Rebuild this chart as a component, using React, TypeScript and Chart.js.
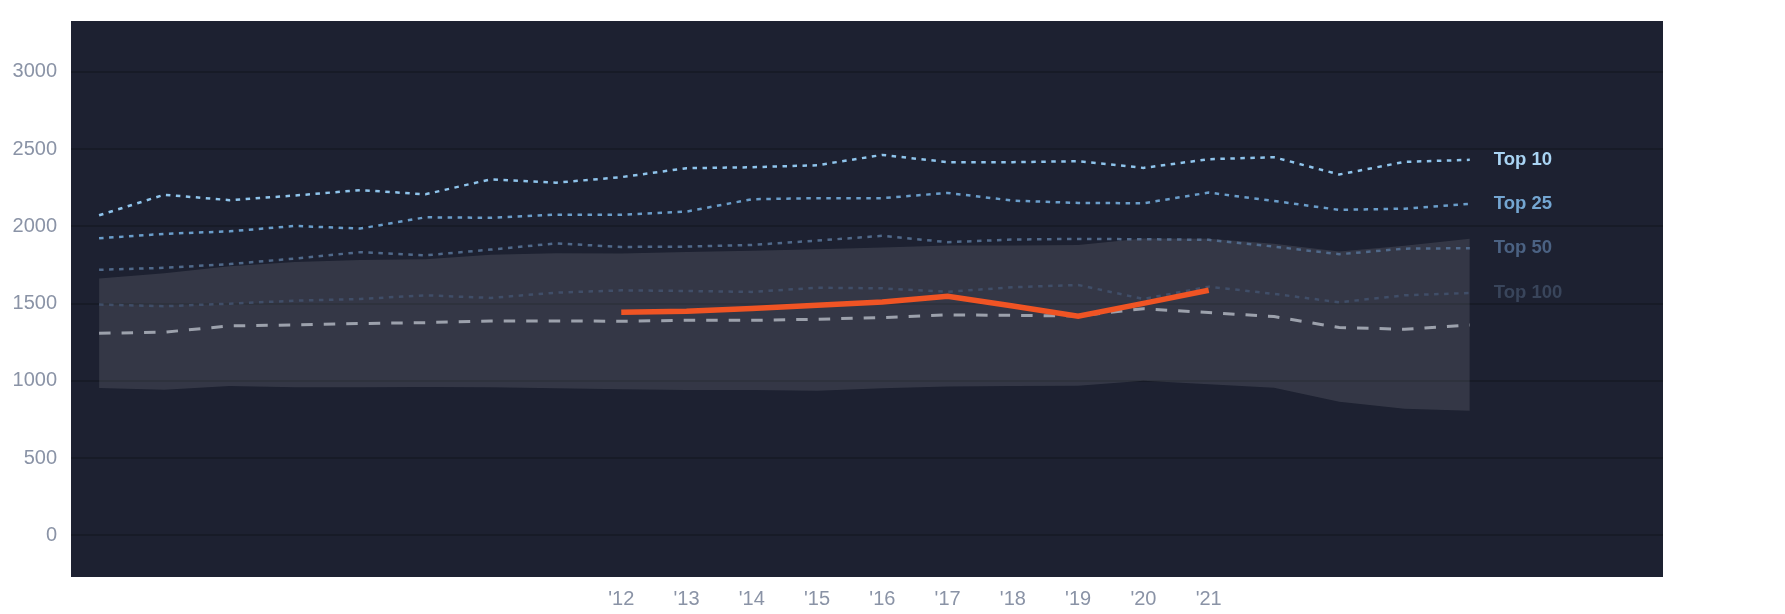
import { useEffect, useRef } from 'react'
import { Chart, registerables } from 'chart.js'

Chart.register(...registerables)

// x positions are season indexes 0..21, only '12–'21 get a label
const xTickIdx = [8, 9, 10, 11, 12, 13, 14, 15, 16, 17]
const xTickLabels = ["'12", "'13", "'14", "'15", "'16", "'17", "'18", "'19", "'20", "'21"]
const yTicks = [0, 500, 1000, 1500, 2000, 2500, 3000]

const top10 = [2072, 2205, 2170, 2200, 2235, 2208, 2305, 2283, 2319, 2377, 2383, 2396, 2463, 2416, 2416, 2422, 2379, 2435, 2448, 2336, 2418, 2431]
const top25 = [1923, 1952, 1968, 2003, 1986, 2059, 2056, 2076, 2075, 2096, 2176, 2183, 2183, 2217, 2167, 2152, 2150, 2219, 2165, 2107, 2115, 2146]
const top50 = [1719, 1732, 1756, 1792, 1833, 1813, 1850, 1890, 1867, 1869, 1880, 1908, 1939, 1898, 1915, 1919, 1917, 1913, 1869, 1820, 1856, 1859]
const top100 = [1494, 1483, 1500, 1519, 1530, 1554, 1537, 1571, 1586, 1582, 1576, 1603, 1599, 1577, 1606, 1621, 1530, 1610, 1563, 1509, 1554, 1569]
const median = [1308, 1315, 1356, 1362, 1371, 1377, 1388, 1388, 1386, 1392, 1392, 1399, 1410, 1427, 1424, 1420, 1467, 1442, 1416, 1345, 1334, 1362]
const bandHigh = [1663, 1697, 1742, 1770, 1782, 1788, 1816, 1827, 1824, 1834, 1843, 1852, 1863, 1876, 1877, 1880, 1922, 1920, 1887, 1837, 1874, 1920]
const bandLow = [954, 943, 966, 958, 958, 960, 958, 952, 945, 940, 940, 936, 952, 964, 966, 968, 1001, 978, 956, 865, 820, 806]
const team = [null, null, null, null, null, null, null, null, 1444, 1450, 1469, 1489, 1510, 1547, 1485, 1419, 1502, 1587, null, null, null, null]

const BG = '#1d2131'
const GRID = '#171b27'
const TICK = '#8a93a6'
const FONT = "'Liberation Sans', Arial, sans-serif"

const pts = (arr: (number | null)[]) =>
  arr.map((y, i) => ({ x: i, y })).filter(p => p.y !== null)

const tiers = [
  { label: 'Top 10', data: top10, color: '#8fc4ec', text: '#a9d4f4' },
  { label: 'Top 25', data: top25, color: '#6a9dca', text: '#74a6d2' },
  { label: 'Top 50', data: top50, color: '#50698a', text: '#4b6283' },
  { label: 'Top 100', data: top100, color: '#404e68', text: '#39455b' },
]

const plotBg = {
  id: 'plotBg',
  beforeDraw(chart: Chart) {
    const { ctx, chartArea: a } = chart
    ctx.save()
    ctx.fillStyle = BG
    ctx.fillRect(a.left, a.top, a.right - a.left, a.bottom - a.top)
    ctx.restore()
  },
}

const endLabels = {
  id: 'endLabels',
  afterDatasetsDraw(chart: Chart) {
    const { ctx } = chart
    ctx.save()
    ctx.font = `bold 18.5px ${FONT}`
    ctx.textAlign = 'left'
    ctx.textBaseline = 'middle'
    chart.data.datasets.forEach((ds: any, i) => {
      if (!ds.endLabel) return
      const meta = chart.getDatasetMeta(i)
      const last = meta.data[meta.data.length - 1]
      if (!last) return
      ctx.fillStyle = ds.endLabelColor
      ctx.fillText(ds.endLabel, last.x + 24, last.y)
    })
    ctx.restore()
  },
}

function RankChart() {
  const canvasRef = useRef<HTMLCanvasElement>(null)

  useEffect(() => {
    const canvas = canvasRef.current
    if (!canvas) return

    const chart = new Chart(canvas, {
      type: 'line',
      data: {
        datasets: [
          {
            label: 'band low',
            data: pts(bandLow),
            borderWidth: 0,
            pointRadius: 0,
            fill: false,
            order: 20,
          },
          {
            label: 'band high',
            data: pts(bandHigh),
            borderWidth: 0,
            pointRadius: 0,
            fill: 0,
            backgroundColor: 'rgba(255,255,255,0.1)',
            order: 19,
          },
          ...tiers.map((t, i) => ({
            label: t.label,
            data: pts(t.data),
            borderColor: t.color,
            borderWidth: 2.5,
            borderDash: [4.5, 5.5],
            pointRadius: 0,
            fill: false,
            order: 10 - i,
            endLabel: t.label,
            endLabelColor: t.text,
          })),
          {
            label: 'median',
            data: pts(median),
            borderColor: '#9ca1ac',
            borderWidth: 3,
            borderDash: [11.5, 11],
            pointRadius: 0,
            fill: false,
            order: 1,
          },
          {
            label: 'team',
            data: pts(team),
            borderColor: '#f05424',
            borderWidth: 5.5,
            pointRadius: 0,
            fill: false,
            order: 0,
          },
        ] as any,
      },
      options: {
        responsive: true,
        maintainAspectRatio: false,
        animation: false,
        layout: { padding: { top: 0, right: 114, left: 0, bottom: 0 } },
        plugins: {
          legend: { display: false },
          tooltip: { enabled: false },
        },
        elements: { line: { tension: 0 } },
        scales: {
          x: {
            type: 'linear',
            min: -0.43,
            max: 23.96,
            afterBuildTicks: (s: any) => { s.ticks = xTickIdx.map(v => ({ value: v })) },
            afterFit: (s: any) => { s.height = 29 },
            grid: { display: false, drawTicks: false },
            border: { display: false },
            ticks: {
              autoSkip: false,
              maxRotation: 0,
              padding: 10,
              color: TICK,
              font: { family: FONT, size: 20 },
              callback: (v: any) => xTickLabels[xTickIdx.indexOf(v)] ?? '',
            },
          },
          y: {
            min: -270,
            max: 3330,
            afterBuildTicks: (s: any) => { s.ticks = yTicks.map(v => ({ value: v })) },
            afterFit: (s: any) => {
              s.width = 63
              s.paddingTop = 13
              s.paddingBottom = 0
            },
            grid: { color: GRID, lineWidth: 2, drawTicks: false },
            border: { display: false },
            ticks: {
              padding: 14,
              color: TICK,
              font: { family: FONT, size: 20 },
              callback: (v: any) => String(v),
            },
          },
        },
      },
      plugins: [plotBg, endLabels],
    })

    return () => chart.destroy()
  }, [])

  return (
    <div style={{ position: 'relative', width: '100%', height: 598 }}>
      <canvas ref={canvasRef} />
    </div>
  )
}

export default function App() {
  return <RankChart />
}
